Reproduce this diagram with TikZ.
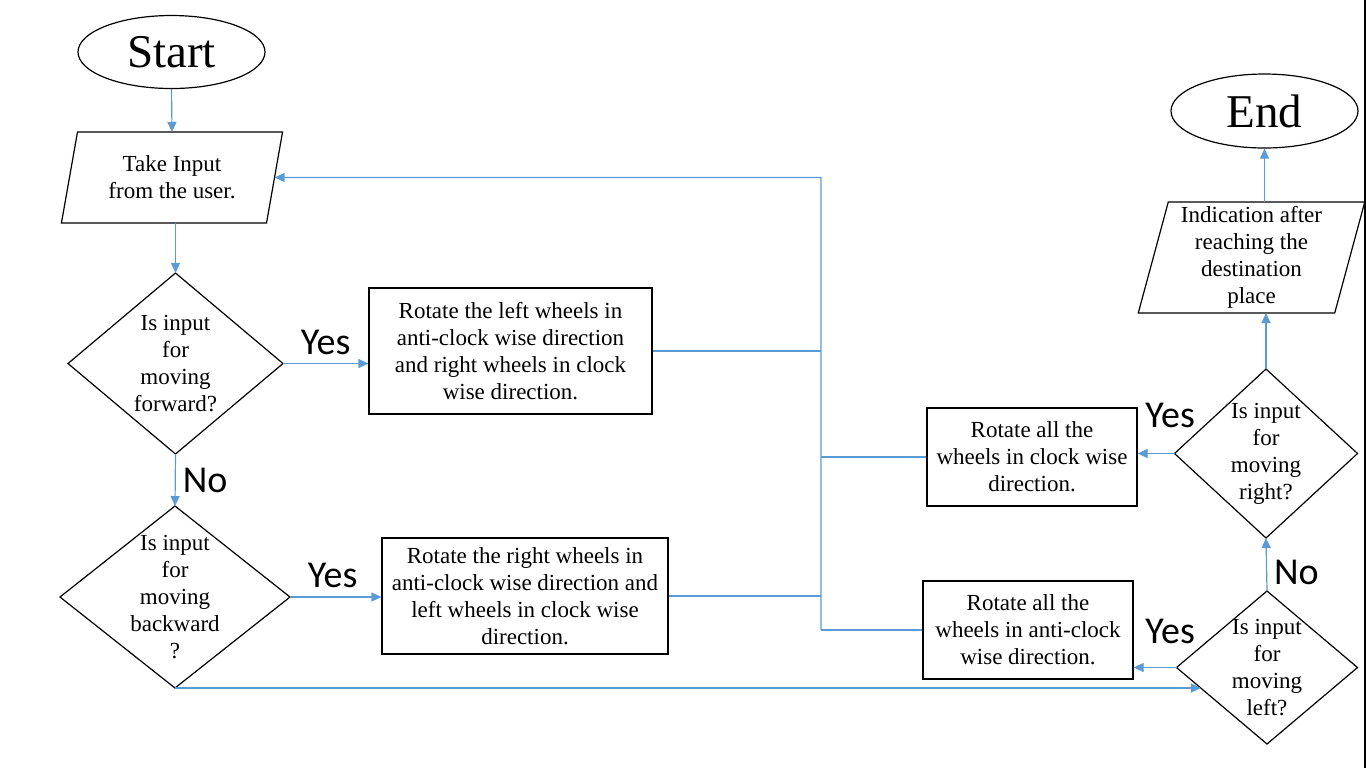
\documentclass[tikz,border=0pt]{standalone}
\usepackage{fontspec}
\setmainfont{Liberation Serif}
\newfontfamily\ynfont{Carlito}
\usetikzlibrary{arrows.meta, positioning, shapes.geometric, calc}
\definecolor{flowblue}{HTML}{5B9BD5}

\tikzset{
    flow/.style={draw=flowblue, line width=0.6pt},
    arr/.style={flow, -{Triangle[length=5pt, width=4.5pt]}},
    body/.style={font=\fontsize{11.5}{13.5}\selectfont, align=center},
    box/.style={draw, line width=0.6pt, body, inner sep=0pt},
    term/.style={draw, ellipse, line width=0.6pt, inner sep=0pt, font=\fontsize{23.5}{26}\selectfont},
    io/.style={draw, trapezium, trapezium left angle=76, trapezium right angle=104, trapezium stretches=true, line width=0.6pt, inner sep=0pt, outer sep=0pt, body},
    decision/.style={draw, diamond, line width=0.6pt, inner sep=0pt, outer sep=0pt},
    yn/.style={font=\ynfont\fontsize{19}{21}\selectfont, inner sep=1pt}
}

\begin{document}
\begin{tikzpicture}[x=0.5pt, y=-0.5pt]
    \useasboundingbox (0,0) rectangle (1366,768);

    % left column
    \node[term, minimum width=93.5pt, minimum height=36.5pt] (start) at (171.5,52) {Start};
    \node[io, minimum width=111pt, minimum height=45.5pt] (input) at (172,177.5) {Take Input\\from the user.};
    \node[decision, minimum width=107.5pt, minimum height=90.5pt, label={[body]center:{Is input\\for\\moving\\forward?}}] (fwd) at (175.5,363.5) {};
    \node[decision, minimum width=115pt, minimum height=91pt, label={[body]center:{Is input\\for\\moving\\backward\\?}}] (bwd) at (175,597) {};

    % wheel boxes
    \node[box, minimum width=141.5pt, minimum height=63pt] (lwheel) at (510.5,351) {Rotate the left wheels in\\anti-clock wise direction\\and right wheels in clock\\wise direction.};
    \node[box, minimum width=143pt, minimum height=58pt] (rwheel) at (525,596) {Rotate the right wheels in\\anti-clock wise direction and\\left wheels in clock wise\\direction.};
    \node[box, minimum width=105pt, minimum height=49pt] (allcw) at (1032,457) {Rotate all the\\wheels in clock wise\\direction.};
    \node[box, minimum width=105pt, minimum height=49pt] (allacw) at (1028,630) {Rotate all the\\wheels in anti-clock\\wise direction.};

    % right column
    \node[decision, minimum width=91.5pt, minimum height=84.5pt, label={[body]center:{Is input\\for\\moving\\right?}}] (rgt) at (1266,453.5) {};
    \node[decision, minimum width=90.5pt, minimum height=76.5pt, label={[body]center:{Is input\\for\\moving\\left?}}] (lft) at (1267,667.5) {};
    \node[io, minimum width=113.5pt, minimum height=55.5pt] (out) at (1251.5,257.5) {Indication after\\reaching the\\destination\\place};
    \node[term, minimum width=93.5pt, minimum height=37pt] (finish) at (1264.5,111) {End};

    \coordinate (jtop) at (821,177.5);
    \coordinate (jbot) at (821,630);
    \coordinate (lftin) at ($(lft.west)!0.27!(lft.south)$);

    \draw[arr] (start.south) -- (input.north);
    \draw[arr] (input.south -| fwd.north) -- (fwd.north);
    \draw[arr] (fwd.east) -- node[yn, midway, above=3pt] {Yes} (fwd.east -| lwheel.west);
    \draw[arr] (fwd.south) -- node[yn, midway, right=2.5pt] {No} (bwd.north);
    \draw[arr] (bwd.east) -- node[yn, midway, above=3.5pt, xshift=-1.5pt] {Yes} (bwd.east -| rwheel.west);
    \draw[arr] (bwd.south) -- (bwd.south -| lftin);

    \draw[flow] (lwheel.east) -- (lwheel.east -| jtop);
    \draw[flow] (rwheel.east) -- (rwheel.east -| jtop);
    \draw[flow] (allcw.west) -- (allcw.west -| jtop);
    \draw[flow] (allacw.west) -- (allacw.west -| jtop);
    \draw[arr] (jbot) -- (jtop) -- (input.east);

    \draw[arr] (lft.west) -- node[yn, midway, above=10.5pt, xshift=7.5pt] {Yes} (lft.west -| allacw.east);
    \draw[arr] (lft.north) -- node[yn, midway, right=2.5pt, yshift=-3.75pt] {No} (rgt.south);
    \draw[arr] (rgt.west) -- node[yn, midway, above=11.5pt, xshift=7pt] {Yes} (rgt.west -| allcw.east);
    \draw[arr] (rgt.north) -- (rgt.north |- out.south);
    \draw[arr] (finish.south |- out.north) -- (finish.south);

    % slide edge
    \draw[line width=1pt] (1364.5,0) -- (1364.5,768);
\end{tikzpicture}
\end{document}
